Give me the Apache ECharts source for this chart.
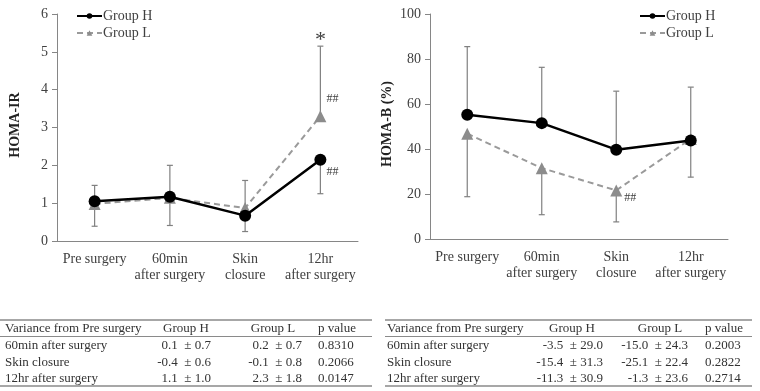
<!DOCTYPE html>
<html>
<head>
<meta charset="utf-8">
<script src="https://cdn.jsdelivr.net/npm/echarts@6/dist/echarts.min.js"></script>
<style>
  html, body { margin: 0; background: #fff; }
  #chart { width: 760px; height: 391px; }
</style>
</head>
<body>
<div id="chart"></div>
<script>
  // categories shared by both panels
  var categories = ['Pre surgery', '60min\nafter surgery', 'Skin\nclosure', '12hr\nafter surgery']

  // HOMA-IR (left panel)
  var irH = [1.05, 1.17, 0.67, 2.15]
  var irL = [0.98, 1.14, 0.87, 3.30]
  var irHErrEnd = [1.47, 2.00, 0.25, 1.25]
  var irLErrEnd = [0.39, 0.41, 1.60, 5.15]

  // HOMA-B % (right panel)
  var betaH = [55.2, 51.5, 39.7, 43.8]
  var betaL = [46.8, 31.5, 21.6, 44.5]
  var betaHErrEnd = [85.5, 76.3, 65.7, 67.5]
  var betaLErrEnd = [18.8, 10.8, 7.6, 27.5]

  // tables
  var tableHeader = ['Variance from Pre surgery', 'Group H', 'Group L', 'p value']
  var rowLabels = ['60min after surgery', 'Skin closure', '12hr after surgery']
  var irTabH = ['0.1  \u00b1 0.7', '-0.4  \u00b1 0.6', '1.1  \u00b1 1.0']
  var irTabL = ['0.2  \u00b1 0.7', '-0.1  \u00b1 0.8', '2.3  \u00b1 1.8']
  var irTabP = ['0.8310', '0.2066', '0.0147']
  var betaTabH = ['-3.5  \u00b1 29.0', '-15.4  \u00b1 31.3', '-11.3  \u00b1 30.9']
  var betaTabL = ['-15.0  \u00b1 24.3', '-25.1  \u00b1 22.4', '-1.3  \u00b1 23.6']
  var betaTabP = ['0.2003', '0.2822', '0.2714']

  var FONT = 'Liberation Serif'
  var TXT = '#404040'
  var AXIS = '#868686'

  var chart = echarts.init(document.getElementById('chart'))

  function errRender (params, api) {
    var p0 = api.coord([api.value(0), api.value(1)])
    var p1 = api.coord([api.value(0), api.value(2)])
    var st = { stroke: '#808080', lineWidth: 1.2 }
    return {
      type: 'group',
      children: [
        { type: 'line', shape: { x1: p0[0], y1: p0[1], x2: p1[0], y2: p1[1] }, style: st },
        { type: 'line', shape: { x1: p1[0] - 3, y1: p1[1], x2: p1[0] + 3, y2: p1[1] }, style: st }
      ]
    }
  }

  function errData (mean, end) {
    return mean.map(function (v, i) { return [i, v, end[i]] })
  }

  function xAxisOf (gi) {
    return {
      type: 'category',
      gridIndex: gi,
      data: categories,
      boundaryGap: true,
      axisLine: { lineStyle: { color: AXIS, width: 1 } },
      axisTick: { interval: 0, length: 5, lineStyle: { color: AXIS } },
      axisLabel: { interval: 0, color: TXT, fontFamily: FONT, fontSize: 14, lineHeight: 16, margin: 10 }
    }
  }

  function yAxisOf (gi, max, step) {
    return {
      type: 'value',
      gridIndex: gi,
      min: 0,
      max: max,
      interval: step,
      axisLine: { show: true, lineStyle: { color: AXIS, width: 1 } },
      axisTick: { show: true, length: 5, lineStyle: { color: AXIS } },
      splitLine: { show: false },
      axisLabel: { color: TXT, fontFamily: FONT, fontSize: 14, margin: 9 }
    }
  }

  function lineH (gi, data, marks) {
    return {
      name: 'Group H', type: 'line', xAxisIndex: gi, yAxisIndex: gi, data: data, z: 3,
      symbol: 'circle', symbolSize: 12,
      itemStyle: { color: '#000' },
      lineStyle: { color: '#000', width: 2.5 },
      markPoint: marks
    }
  }

  function lineL (gi, data, marks) {
    return {
      name: 'Group L', type: 'line', xAxisIndex: gi, yAxisIndex: gi, data: data, z: 2,
      symbol: 'triangle', symbolSize: 12,
      itemStyle: { color: '#8c8c8c' },
      lineStyle: { color: '#9a9a9a', width: 2, type: [6, 4] },
      markPoint: marks
    }
  }

  function mark (items) {
    return {
      symbol: 'circle', symbolSize: 0, silent: true,
      label: { show: true, formatter: '{b}', color: TXT, fontFamily: FONT, fontSize: 12 },
      data: items
    }
  }

  function legendAt (left) {
    return {
      left: left, top: 4, orient: 'vertical', itemWidth: 25, itemHeight: 7, itemGap: 3,
      selectedMode: false,
      data: ['Group H', 'Group L'],
      textStyle: { color: TXT, fontFamily: FONT, fontSize: 14, padding: [0, 0, 0, -4] }
    }
  }

  // tables as graphic elements
  var graphics = []
  function table (x0, x1, cols, h, l, p) {
    var lineC = '#8a8a8a'
    graphics.push({ type: 'line', shape: { x1: x0, y1: 320, x2: x1, y2: 320 }, style: { stroke: lineC, lineWidth: 1.5 } })
    graphics.push({ type: 'line', shape: { x1: x0, y1: 336.5, x2: x1, y2: 336.5 }, style: { stroke: lineC, lineWidth: 1 } })
    graphics.push({ type: 'line', shape: { x1: x0, y1: 386, x2: x1, y2: 386 }, style: { stroke: lineC, lineWidth: 1.5 } })
    var ts = function (txt, x, y, align) {
      graphics.push({ type: 'text', x: x, y: y, style: { text: txt, fill: '#333', font: '13px "' + FONT + '"', textAlign: align, textVerticalAlign: 'middle' } })
    }
    var hy = 329
    ts(tableHeader[0], cols[0], hy, 'left')
    ts(tableHeader[1], cols[1], hy, 'center')
    ts(tableHeader[2], cols[2], hy, 'center')
    ts(tableHeader[3], cols[5], hy, 'left')
    var rows = [346, 362.5, 379]
    rowLabels.forEach(function (lab, i) {
      ts(lab, cols[0], rows[i], 'left')
      ts(h[i], cols[3], rows[i], 'right')
      ts(l[i], cols[4], rows[i], 'right')
      ts(p[i], cols[5], rows[i], 'left')
    })
  }
  table(0, 372, [5, 186, 273, 211, 302, 318], irTabH, irTabL, irTabP)
  table(385, 752, [387, 572, 660, 603, 688, 705], betaTabH, betaTabL, betaTabP)

  graphics.push({ type: 'text', x: 15, y: 125, rotation: Math.PI / 2, style: { text: 'HOMA-IR', fill: '#222', font: 'bold 14px "' + FONT + '"', textAlign: 'center', textVerticalAlign: 'middle' } })
  graphics.push({ type: 'text', x: 387, y: 124, rotation: Math.PI / 2, style: { text: 'HOMA-B (%)', fill: '#222', font: 'bold 14px "' + FONT + '"', textAlign: 'center', textVerticalAlign: 'middle' } })

  var option = {
    animation: false,
    backgroundColor: '#fff',
    textStyle: { fontFamily: FONT },
    legend: [legendAt(71), legendAt(634)],
    grid: [
      { left: 57, top: 14, width: 301, height: 227 },
      { left: 430, top: 14, width: 298, height: 225 }
    ],
    xAxis: [xAxisOf(0), xAxisOf(1)],
    yAxis: [yAxisOf(0, 6, 1), yAxisOf(1, 100, 20)],
    series: [
      { type: 'custom', xAxisIndex: 0, yAxisIndex: 0, renderItem: errRender, data: errData(irH, irHErrEnd), encode: { x: 0, y: [1, 2] }, z: 1, silent: true },
      { type: 'custom', xAxisIndex: 0, yAxisIndex: 0, renderItem: errRender, data: errData(irL, irLErrEnd), encode: { x: 0, y: [1, 2] }, z: 1, silent: true },
      lineL(0, irL, mark([
        { name: '*', coord: [3, 5.15], label: { fontSize: 22, offset: [0, -6] } },
        { name: '##', coord: [3, 3.3], label: { offset: [12, -17] } }
      ])),
      lineH(0, irH, mark([
        { name: '##', coord: [3, 2.15], label: { offset: [12, 12] } }
      ])),
      { type: 'custom', xAxisIndex: 1, yAxisIndex: 1, renderItem: errRender, data: errData(betaH, betaHErrEnd), encode: { x: 0, y: [1, 2] }, z: 1, silent: true },
      { type: 'custom', xAxisIndex: 1, yAxisIndex: 1, renderItem: errRender, data: errData(betaL, betaLErrEnd), encode: { x: 0, y: [1, 2] }, z: 1, silent: true },
      lineL(1, betaL, mark([
        { name: '##', coord: [2, 21.6], label: { offset: [14, 7] } }
      ])),
      lineH(1, betaH, null)
    ],
    graphic: graphics
  }
  chart.setOption(option)
</script>
</body>
</html>
